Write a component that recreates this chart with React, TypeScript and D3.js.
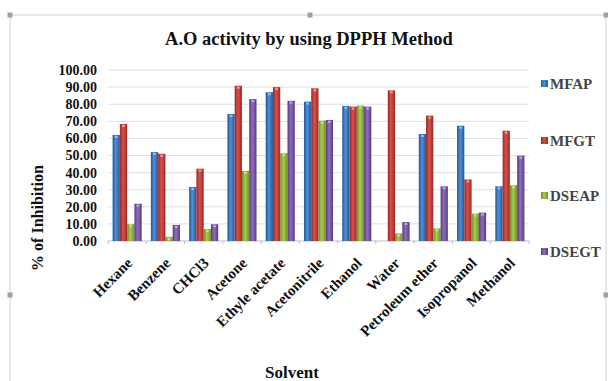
import * as d3 from "d3";
import React from "react";

const WIDTH = 608;
const HEIGHT = 381;
const PLOT = { left: 108, right: 529, top: 70, bottom: 241 };

const solvents = [
    "Hexane",
    "Benzene",
    "CHCl3",
    "Acetone",
    "Ethyle acetate",
    "Acetonitrile",
    "Ethanol",
    "Water",
    "Petroleum ether",
    "Isopropanol",
    "Methanol",
];
const seriesNames = ["MFAP", "MFGT", "DSEAP", "DSEGT"];
const mfap = [62, 52, 31.6, 74.3, 87, 81.5, 79, 0, 62.6, 67.4, 32];
const mfgt = [68.4, 51, 42.3, 90.8, 90, 89.3, 78.6, 88.1, 73.3, 36, 64.5];
const dseap = [9.8, 2.5, 7, 41, 51.3, 70.4, 79.2, 4.5, 7.4, 16, 32.6];
const dsegt = [21.8, 9.4, 9.8, 83, 82, 70.8, 78.6, 11.1, 32, 16.6, 49.9];
const yTicks = [0, 10, 20, 30, 40, 50, 60, 70, 80, 90, 100];

const seriesValues = [mfap, mfgt, dseap, dsegt];
// edge / middle colours for the shaded bars
const colors = [
    { dark: "#24589a", mid: "#4f8fd6" },
    { dark: "#9a2824", mid: "#d9504b" },
    { dark: "#70902a", mid: "#a8cc4f" },
    { dark: "#583c7e", mid: "#8f6cbd" },
];

const SERIF = "'Liberation Serif', 'Times New Roman', Times, 'DejaVu Serif', serif";

const App: React.FC = () => {
    const x0 = d3
        .scaleBand<string>()
        .domain(solvents)
        .range([PLOT.left, PLOT.right])
        .paddingInner(0.24)
        .paddingOuter(0.12);
    const x1 = d3
        .scaleBand<string>()
        .domain(seriesNames)
        .range([0, x0.bandwidth()]);
    const y = d3
        .scaleLinear()
        .domain([0, 100])
        .range([PLOT.bottom, PLOT.top]);
    const step = x0.step();

    const legendY = [84, 141, 196, 252];
    const txt = { fontFamily: SERIF, fontWeight: 700 as const };

    return (
        <svg
            width={WIDTH}
            height={HEIGHT}
            style={{ position: "absolute", left: 0, top: 0, background: "#fff" }}
        >
            <defs>
                {colors.map((c, i) => (
                    <linearGradient key={i} id={`g${i}`} x1="0" x2="1" y1="0" y2="0">
                        <stop offset="0" stopColor={c.dark} />
                        <stop offset="0.45" stopColor={c.mid} />
                        <stop offset="1" stopColor={c.dark} />
                    </linearGradient>
                ))}
            </defs>

            {/* chart frame */}
            <rect x={10} y={15} width={596} height={380} fill="none" stroke="#d0d0d0" strokeWidth={1} />
            {[
                [10, 15],
                [310, 15],
                [606, 15],
                [10, 295],
                [606, 295],
            ].map(([hx, hy], i) => (
                <rect key={i} x={hx - 2.5} y={hy - 2.5} width={5} height={5} fill="#a0a0a0" />
            ))}

            <text x={309} y={45} textAnchor="middle" fontSize={18.5} fill="#111" style={txt}>
                A.O activity by using DPPH Method
            </text>

            {/* grid + y ticks */}
            {yTicks.map((t) => (
                <g key={t}>
                    <line
                        x1={PLOT.left}
                        x2={PLOT.right}
                        y1={y(t)}
                        y2={y(t)}
                        stroke={t === 0 ? "#bfbfbf" : "#e0e0e0"}
                    />
                    <text
                        x={97}
                        y={y(t)}
                        dy="0.35em"
                        textAnchor="end"
                        fontSize={14}
                        fill="#111"
                        style={txt}
                    >
                        {t.toFixed(2)}
                    </text>
                </g>
            ))}

            {/* bars */}
            {solvents.map((s, si) => (
                <g key={s} transform={`translate(${x0(s)},0)`}>
                    {seriesNames.map((name, k) => {
                        const v = seriesValues[k][si];
                        if (v <= 0) return null;
                        const bx = x1(name) || 0;
                        const bw = x1.bandwidth();
                        return (
                            <g key={name}>
                                <rect
                                    x={bx}
                                    y={y(v)}
                                    width={bw}
                                    height={y(0) - y(v)}
                                    fill={`url(#g${k})`}
                                />
                                <rect
                                    x={bx + bw * 0.3}
                                    y={y(v) + 1}
                                    width={bw * 0.4}
                                    height={2}
                                    fill="#fff"
                                    opacity={0.45}
                                />
                            </g>
                        );
                    })}
                </g>
            ))}

            {/* category ticks */}
            {d3.range(solvents.length + 1).map((i) => (
                <line
                    key={i}
                    x1={PLOT.left + i * step}
                    x2={PLOT.left + i * step}
                    y1={PLOT.bottom}
                    y2={PLOT.bottom + 3}
                    stroke="#bfbfbf"
                />
            ))}

            {/* x labels */}
            {solvents.map((s) => {
                const cx = (x0(s) || 0) + x0.bandwidth() / 2;
                return (
                    <text
                        key={s}
                        transform={`translate(${cx + 6},${PLOT.bottom + 23}) rotate(-45)`}
                        textAnchor="end"
                        fontSize={15}
                        fill="#111"
                        style={txt}
                    >
                        {s}
                    </text>
                );
            })}

            <text
                transform={`translate(43,218) rotate(-90)`}
                textAnchor="middle"
                fontSize={16}
                fill="#111"
                style={txt}
            >
                % of Inhibition
            </text>
            <text x={292} y={378} textAnchor="middle" fontSize={17} fill="#111" style={txt}>
                Solvent
            </text>

            {/* legend */}
            {seriesNames.map((name, k) => (
                <g key={name}>
                    <rect
                        x={541}
                        y={legendY[k] - 4}
                        width={7}
                        height={7}
                        fill={`url(#g${k})`}
                    />
                    <text
                        x={550}
                        y={legendY[k]}
                        dy="0.35em"
                        fontSize={15}
                        fill="#444"
                        style={txt}
                    >
                        {name}
                    </text>
                </g>
            ))}
        </svg>
    );
};

export default App;
